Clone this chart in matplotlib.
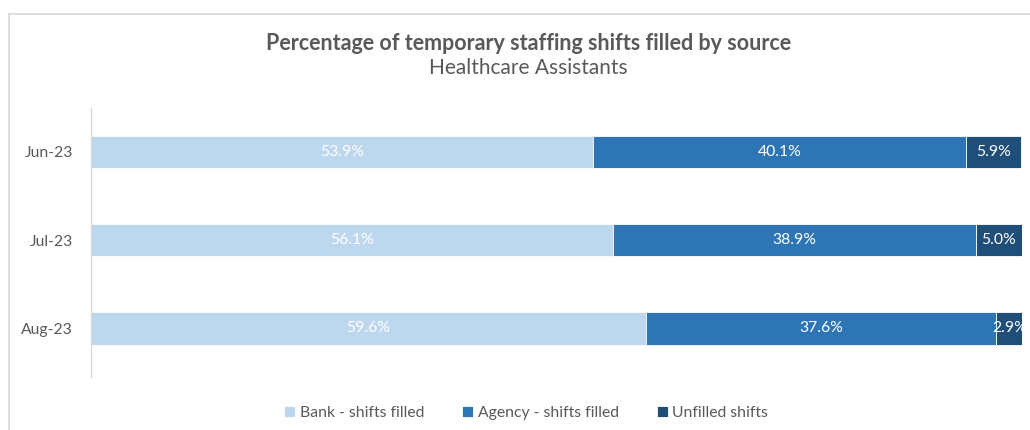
import matplotlib.pyplot as plt
import numpy as np
from matplotlib.lines import Line2D

plt.rcParams['font.family'] = ['Lato', 'DejaVu Sans']

months = ['Jun-23', 'Jul-23', 'Aug-23']
bank = [53.9, 56.1, 59.6]
agency = [40.1, 38.9, 37.6]
unfilled = [5.9, 5.0, 2.9]

series_names = ['Bank - shifts filled', 'Agency - shifts filled', 'Unfilled shifts']
series_colors = ['#BDD7EE', '#2E75B6', '#1F4E79']

fig = plt.figure(figsize=(10.3, 4.3), dpi=100)
ax = fig.add_axes([0.0883, 0.1233, 0.904, 0.626])

y = np.arange(len(months))
left = np.zeros(len(months))
handles = []
for values, name, color in zip([bank, agency, unfilled], series_names, series_colors):
    values = np.array(values)
    bars = ax.barh(y, values, height=0.365, left=left, color=color,
                   edgecolor='white', linewidth=0.6, label=name)
    handles.append(bars)
    for yi, l, v in zip(y, left, values):
        ax.text(l + v / 2, yi, f'{v:.1f}%', ha='center', va='center',
                color='white', fontsize=11.3)
    left = left + values

ax.set_xlim(0, 100)
ax.set_ylim(2.55, -0.5)
ax.set_yticks(y)
ax.set_yticklabels(months, fontsize=11.3, color='#595959')
ax.set_xticks([])
ax.tick_params(axis='y', length=0, pad=13)
for side in ['top', 'right', 'bottom']:
    ax.spines[side].set_visible(False)
ax.spines['left'].set_color('#D9D9D9')
ax.spines['left'].set_linewidth(1)

fig.text(0.513, 0.900, 'Percentage of temporary staffing shifts filled by source',
         ha='center', va='center', fontsize=15.5, fontweight='bold', color='#595959')
fig.text(0.513, 0.843, 'Healthcare Assistants', ha='center', va='center',
         fontsize=15, color='#595959')

fig.legend(handles, series_names, loc='center', bbox_to_anchor=(0.511, 0.04),
           ncol=3, frameon=False, fontsize=11.3, handlelength=0.7, handleheight=0.7,
           handletextpad=0.3, columnspacing=2.4, labelcolor='#595959')

# chart area border (Excel style)
fig.add_artist(Line2D([0.0083, 0.0083], [0, 0.968], transform=fig.transFigure,
                      color='#D9D9D9', linewidth=1.2))
fig.add_artist(Line2D([0.0083, 1.0], [0.968, 0.968], transform=fig.transFigure,
                      color='#D9D9D9', linewidth=1.2))

fig.savefig('out.png', dpi=100)
